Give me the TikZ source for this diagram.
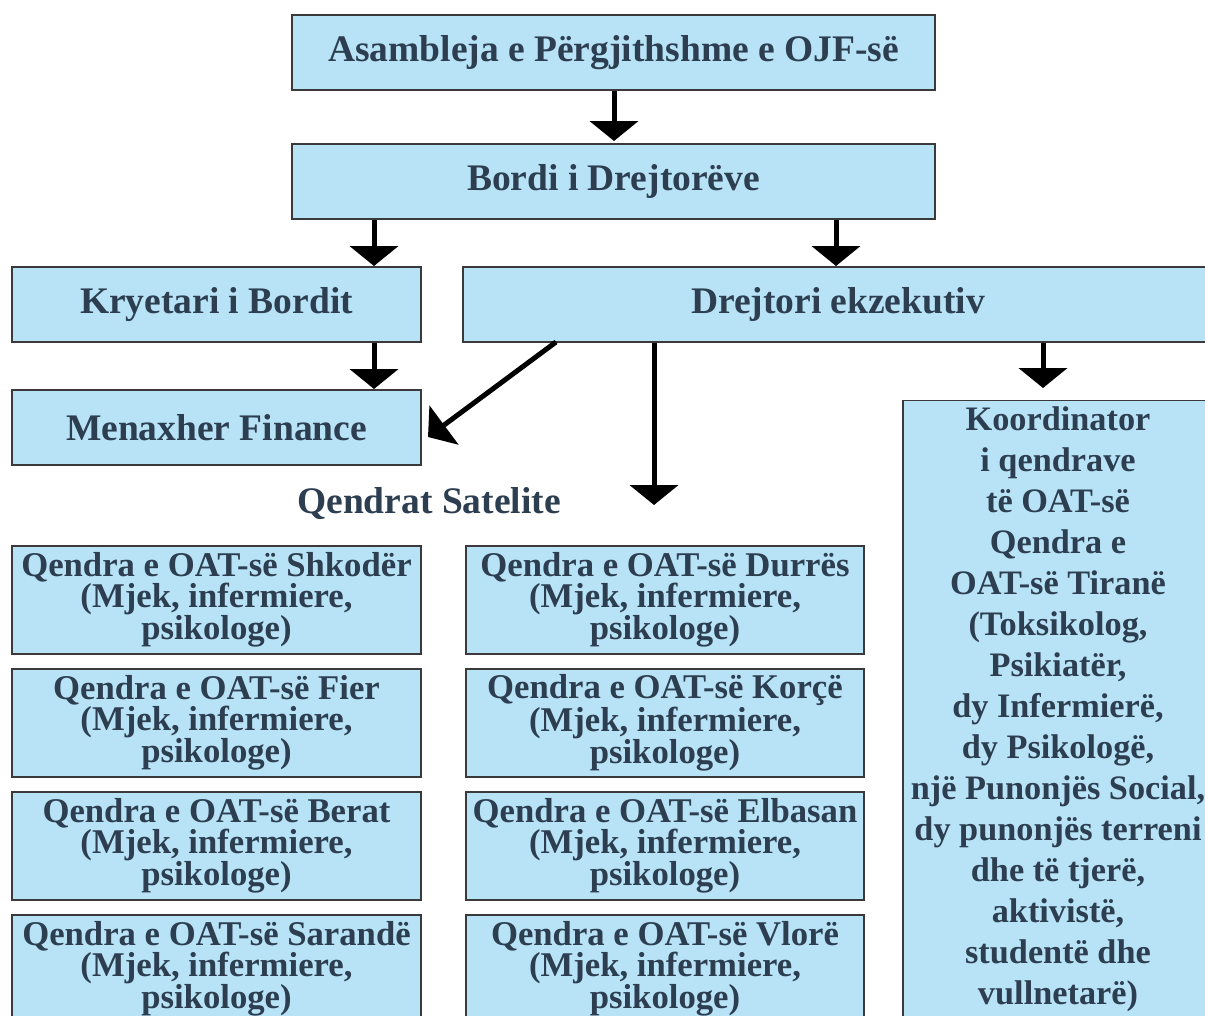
\documentclass[tikz,border=0pt]{standalone}
\usepackage{fontspec}
\setmainfont{Liberation Serif}
\usetikzlibrary{arrows.meta}
\definecolor{boxfill}{HTML}{B8E3F7}
\definecolor{boxline}{HTML}{3A3A3A}
\definecolor{txt}{HTML}{2C3E50}
\tikzset{
  box/.style={draw=boxline, line width=1.2pt, fill=boxfill, rectangle, inner sep=0pt,
    text=txt, font=\bfseries\fontsize{37.5}{40}\selectfont, align=center},
  small/.style={box, minimum height=108pt, font=\bfseries\fontsize{34.7}{30.5}\selectfont},
  big/.style={box, font=\bfseries\fontsize{34.3}{41}\selectfont},
  arr/.style={line width=5pt, -{Triangle[width=48pt,length=20pt]}},
}
\begin{document}
\begin{tikzpicture}[x=1pt,y=-1pt]
\useasboundingbox (0,0) rectangle (1205,1015);
\clip (0,0) rectangle (1205,1015);
\node[box, minimum width=643pt, minimum height=75pt] (asm) at (613.5,52.5) {Asambleja e Përgjithshme e OJF-së};
\node[box, minimum width=643pt, minimum height=75pt] (brd) at (613.5,181.5) {Bordi i Drejtorëve};
\node[box, minimum width=409pt, minimum height=75pt] (kry) at (216.5,304.5) {Kryetari i Bordit};
\node[box, minimum width=750pt, minimum height=75pt] (drj) at (838,304.5) {Drejtori ekzekutiv};
\node[box, minimum width=409pt, minimum height=75pt] (fin) at (216.5,427.5) {Menaxher Finance};
\node[text=txt, font=\bfseries\fontsize{37.5}{40}\selectfont] (sat) at (429,504) {Qendrat Satelite};
\node[big, minimum width=310pt, minimum height=617pt] (koo) at (1058,709) {Koordinator\\i qendrave\\të OAT-së\\Qendra e\\OAT-së Tiranë\\(Toksikolog,\\Psikiatër,\\dy Infermierë,\\dy Psikologë,\\një Punonjës Social,\\dy punonjës terreni\\dhe të tjerë,\\aktivistë,\\studentë dhe\\vullnetarë)};
\node[small, minimum width=409pt] (shk) at (216.5,600) {Qendra e OAT-së Shkodër\\(Mjek, infermiere,\\psikologe)};
\node[small, minimum width=409pt] (fie) at (216.5,723) {Qendra e OAT-së Fier\\(Mjek, infermiere,\\psikologe)};
\node[small, minimum width=409pt] (ber) at (216.5,846) {Qendra e OAT-së Berat\\(Mjek, infermiere,\\psikologe)};
\node[small, minimum width=409pt] (sar) at (216.5,969) {Qendra e OAT-së Sarandë\\(Mjek, infermiere,\\psikologe)};
\node[small, minimum width=398pt] (dur) at (665,600) {Qendra e OAT-së Durrës\\(Mjek, infermiere,\\psikologe)};
\node[small, minimum width=398pt] (kor) at (665,723) {Qendra e OAT-së Korçë\\(Mjek, infermiere,\\psikologe)};
\node[small, minimum width=398pt] (elb) at (665,846) {Qendra e OAT-së Elbasan\\(Mjek, infermiere,\\psikologe)};
\node[small, minimum width=398pt] (vlo) at (665,969) {Qendra e OAT-së Vlorë\\(Mjek, infermiere,\\psikologe)};
\coordinate (sattip) at (654,505);
\coordinate (kootip) at (1043,388);
\coordinate (dgstart) at (556,342);
\coordinate (fintip) at (428,437);
\coordinate (c1) at (614,141);
\coordinate (c2) at (374,266);
\coordinate (c3) at (836,266);
\coordinate (c4) at (374,389);
\draw[arr] (asm.south -| c1) -- (c1);
\draw[arr] (brd.south -| c2) -- (c2);
\draw[arr] (brd.south -| c3) -- (c3);
\draw[arr] (kry.south -| c4) -- (c4);
\draw[arr] (dgstart) -- (fintip);
\draw[arr] (drj.south -| sattip) -- (sattip);
\draw[arr] (drj.south -| kootip) -- (kootip);
\end{tikzpicture}
\end{document}
